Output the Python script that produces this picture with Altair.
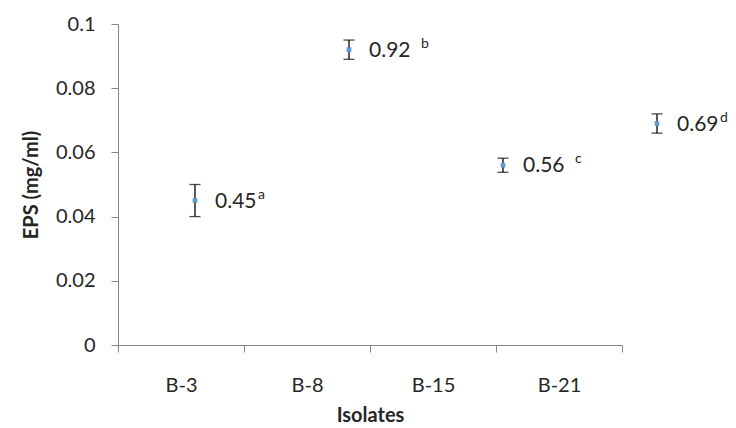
import altair as alt
import pandas as pd

isolates = ["B-3", "B-8", "B-15", "B-21"]
eps_mean = [0.045, 0.092, 0.056, 0.069]
eps_err = [0.005, 0.003, 0.0022, 0.003]
value_labels = ["0.45", "0.92", "0.56", "0.69"]
letters = ["a", "b", "c", "d"]
space_before_letter = [False, True, True, False]

df = pd.DataFrame({
    "Isolate": isolates,
    "EPS": eps_mean,
    "lo": [m - e for m, e in zip(eps_mean, eps_err)],
    "hi": [m + e for m, e in zip(eps_mean, eps_err)],
    "label": value_labels,
    "letter": letters,
    "spaced": space_before_letter,
})

FONT = "Lato"
AX = "#868686"
TXT = "#262626"

yscale = alt.Scale(domain=[0, 0.1], nice=False)

axis_layer = alt.Chart(df).mark_point(opacity=0).encode(
    x=alt.X("Isolate:N", sort=isolates, title="Isolates",
            scale=alt.Scale(paddingInner=0, paddingOuter=0),
            axis=alt.Axis(labelAngle=0, tickBand="extent", domainColor=AX, tickColor=AX,
                          tickSize=7, labelPadding=23, labelFontSize=20, labelFont=FONT,
                          labelColor=TXT, titleFontSize=20, titleFont=FONT, titleFontWeight="bold",
                          titleColor=TXT, titlePadding=10, grid=False)),
    y=alt.Y("EPS:Q", scale=yscale, title="EPS (mg/ml)",
            axis=alt.Axis(values=[0, 0.02, 0.04, 0.06, 0.08, 0.1], format=".2~f",
                          domainColor=AX, tickColor=AX, tickSize=7, labelPadding=16,
                          labelFontSize=20, labelFont=FONT, labelColor=TXT,
                          titleFontSize=20, titleFont=FONT, titleFontWeight="bold",
                          titleColor=TXT, titlePadding=14, grid=False)),
)

xs = alt.X("Isolate:N", sort=isolates,
           scale=alt.Scale(range=[0, 616], paddingInner=0, paddingOuter=0), axis=None)

base = alt.Chart(df).encode(x=xs)

rules = base.mark_rule(color="black", strokeWidth=1.3).encode(
    y=alt.Y("lo:Q", scale=yscale), y2="hi:Q")
caps_lo = base.mark_tick(color="black", size=11, thickness=1.3).encode(
    y=alt.Y("lo:Q", scale=yscale))
caps_hi = base.mark_tick(color="black", size=11, thickness=1.3).encode(
    y=alt.Y("hi:Q", scale=yscale))
pts = base.mark_square(color="#5B9BD5", size=22, opacity=1).encode(
    y=alt.Y("EPS:Q", scale=yscale))
txt = base.mark_text(align="left", baseline="middle", dx=20, dy=1, fontSize=21,
                     font=FONT, color=TXT).encode(
    y=alt.Y("EPS:Q", scale=yscale), text="label:N")
sup_tight = base.transform_filter("!datum.spaced").mark_text(
    align="left", baseline="middle", dx=63, dy=-6, fontSize=14, font=FONT, color=TXT
).encode(y=alt.Y("EPS:Q", scale=yscale), text="letter:N")
sup_spaced = base.transform_filter("datum.spaced").mark_text(
    align="left", baseline="middle", dx=72, dy=-6, fontSize=14, font=FONT, color=TXT
).encode(y=alt.Y("EPS:Q", scale=yscale), text="letter:N")

marks = alt.layer(rules, caps_lo, caps_hi, pts, txt, sup_tight, sup_spaced)

chart = alt.layer(axis_layer, marks).resolve_scale(x="independent").properties(
    width=504, height=321,
    padding={"left": 110, "top": 16, "right": 106, "bottom": 84},
    autosize=alt.AutoSizeParams(type="none"),
    background="white",
).configure_view(stroke=None)

chart.save("out.html", embed_options={"renderer": "svg", "actions": False})
